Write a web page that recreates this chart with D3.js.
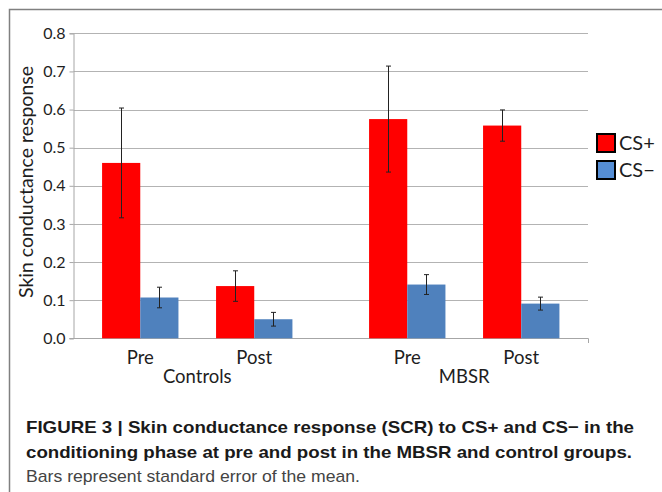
<!DOCTYPE html>
<html>
<head>
<meta charset="utf-8">
<script src="https://cdn.jsdelivr.net/npm/d3@7"></script>
<style>
  body { margin: 0; background: #fff; }
  svg { display: block; }
</style>
</head>
<body>
<div id="chart"></div>
<script>
// data
const groups = ['Controls', 'MBSR'];
const phases = ['Pre', 'Post'];
const series = ['CS+', 'CS\u2212'];
const csPlus = [0.46, 0.137, 0.575, 0.558];
const csPlusErr = [0.144, 0.04, 0.139, 0.041];
const csMinus = [0.107, 0.05, 0.141, 0.091];
const csMinusErr = [0.027, 0.018, 0.026, 0.017];
const yTicks = [0, 0.1, 0.2, 0.3, 0.4, 0.5, 0.6, 0.7, 0.8];
const colors = ['#ff0000', '#4f81bd'];
const legendColors = ['#ff0000', '#558ed5'];
const caption = [
    'FIGURE 3 | Skin conductance response (SCR) to CS+ and CS\u2212 in the',
    'conditioning phase at pre and post in the MBSR and control groups.',
    'Bars represent standard error of the mean.'
];

const width = 662, height = 492;
const chartFont = 'Lato, "Open Sans", sans-serif';

const rows = [];
groups.forEach((g, gi) => {
    phases.forEach((p, pi) => {
        const i = gi * 2 + pi;
        rows.push({ group: g, phase: p, s: series[0], v: csPlus[i], e: csPlusErr[i] });
        rows.push({ group: g, phase: p, s: series[1], v: csMinus[i], e: csMinusErr[i] });
    });
});

const svg = d3.select('#chart').append('svg')
    .attr('width', width)
    .attr('height', height);

// frame
svg.append('path')
    .attr('d', 'M662,9.5H9.5V492')
    .attr('fill', 'none')
    .attr('stroke', '#808080')
    .attr('stroke-width', 1.5);

const y = d3.scaleLinear().domain([0, 0.8]).range([338.3, 33.3]);
const x0 = d3.scaleBand().domain(groups).range([73.5, 588])
    .paddingInner(0.2).paddingOuter(0.0635);
const x1 = d3.scaleBand().domain(phases).range([0, x0.bandwidth()])
    .paddingInner(0.33).paddingOuter(0.102);
const x2 = d3.scaleBand().domain(series).range([0, x1.bandwidth()]);
const color = d3.scaleOrdinal().domain(series).range(colors);

// gridlines
svg.append('g').selectAll('line')
    .data(yTicks.slice(1))
    .enter().append('line')
    .attr('x1', 73.5).attr('x2', 588)
    .attr('y1', d => Math.round(y(d)) + 0.5)
    .attr('y2', d => Math.round(y(d)) + 0.5)
    .attr('stroke', '#b3b3b3');

// y axis
const yAxis = svg.append('g')
    .attr('transform', 'translate(73.5,0)')
    .call(d3.axisLeft(y).tickValues(yTicks).tickFormat(d3.format('.1f')).tickSize(4).tickPadding(4));
yAxis.select('.domain').attr('stroke', '#a6a6a6');
yAxis.selectAll('.tick line').attr('stroke', '#a6a6a6');
yAxis.selectAll('.tick text')
    .attr('fill', '#1e1e1e')
    .style('font-family', chartFont)
    .style('font-size', '16px');

// x baseline
svg.append('path')
    .attr('d', 'M69.5,338.5H588.5V343')
    .attr('fill', 'none')
    .attr('stroke', '#a6a6a6');

// bars
const bx = d => x0(d.group) + x1(d.phase) + x2(d.s);
svg.append('g').selectAll('rect')
    .data(rows)
    .enter().append('rect')
    .attr('x', bx)
    .attr('y', d => y(d.v))
    .attr('width', x2.bandwidth())
    .attr('height', d => y(0) - y(d.v))
    .attr('fill', d => color(d.s));

// error bars
const err = svg.append('g')
    .attr('stroke', '#222')
    .attr('stroke-width', 1);
rows.forEach(d => {
    const cx = Math.round(bx(d) + x2.bandwidth() / 2) + 0.5;
    err.append('line').attr('x1', cx).attr('x2', cx)
        .attr('y1', y(d.v + d.e)).attr('y2', y(d.v - d.e));
    [d.v + d.e, d.v - d.e].forEach(v => {
        err.append('line').attr('x1', cx - 2.5).attr('x2', cx + 2.5)
            .attr('y1', y(v)).attr('y2', y(v));
    });
});

// category labels
const labels = svg.append('g')
    .style('font-family', chartFont)
    .attr('fill', '#1e1e1e')
    .attr('text-anchor', 'middle');
groups.forEach(g => {
    phases.forEach(p => {
        labels.append('text')
            .attr('x', x0(g) + x1(p) + x1.bandwidth() / 2)
            .attr('y', 364)
            .style('font-size', '18.5px')
            .text(p);
    });
    labels.append('text')
        .attr('x', x0(g) + x0.bandwidth() / 2)
        .attr('y', 382.5)
        .style('font-size', '18.5px')
        .text(g);
});

// y title
svg.append('text')
    .attr('transform', 'translate(33,182) rotate(-90)')
    .attr('text-anchor', 'middle')
    .attr('fill', '#1e1e1e')
    .style('font-family', chartFont)
    .style('font-size', '19.5px')
    .text('Skin conductance response');

// legend
const legend = svg.append('g')
    .selectAll('g')
    .data(series)
    .enter().append('g')
    .attr('transform', (d, i) => `translate(597,${134 + i * 27})`);
legend.append('rect')
    .attr('width', 18).attr('height', 18)
    .attr('fill', (d, i) => legendColors[i])
    .attr('stroke', '#000')
    .attr('stroke-width', 2);
legend.append('text')
    .attr('x', 22).attr('y', 16)
    .attr('fill', '#1e1e1e')
    .style('font-family', chartFont)
    .style('font-size', '20px')
    .text(d => d);

// caption
const capLengths = [608, 606, 334];
svg.append('g').selectAll('text')
    .data(caption)
    .enter().append('text')
    .attr('x', 26)
    .attr('y', (d, i) => 433 + i * 24.5)
    .attr('textLength', (d, i) => capLengths[i])
    .attr('lengthAdjust', 'spacingAndGlyphs')
    .attr('fill', (d, i) => i < 2 ? '#1a1a1a' : '#444')
    .style('font-family', '"Liberation Sans", Arial, sans-serif')
    .style('font-weight', (d, i) => i < 2 ? 'bold' : 'normal')
    .style('font-size', '17px')
    .text(d => d);
</script>
</body>
</html>
